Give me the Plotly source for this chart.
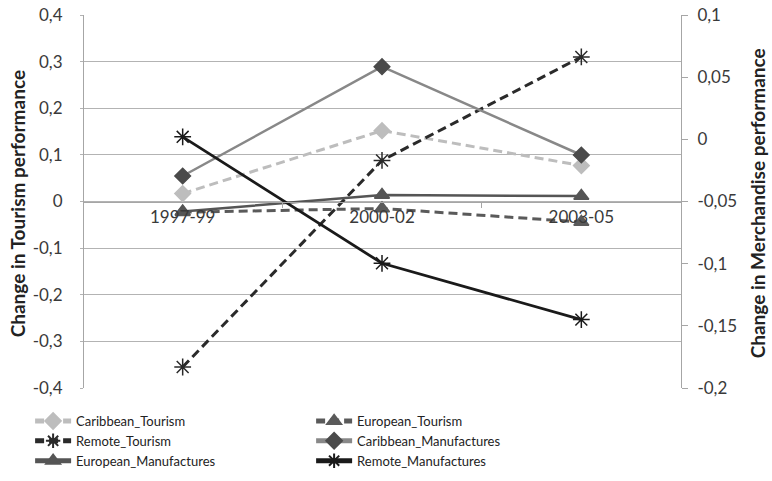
import plotly.graph_objects as go

categories = ["1997-99", "2000-02", "2003-05"]

caribbean_tourism = [0.017, 0.152, 0.077]
european_tourism = [-0.023, -0.015, -0.044]
remote_tourism = [-0.355, 0.088, 0.31]

caribbean_manufactures = [-0.0295, 0.0584, -0.0126]
european_manufactures = [-0.058, -0.0448, -0.0456]
remote_manufactures = [0.002, -0.0997, -0.145]

left_ticks = [0.4, 0.3, 0.2, 0.1, 0, -0.1, -0.2, -0.3, -0.4]
left_labels = ["0,4", "0,3", "0,2", "0,1", "0", "-0,1", "-0,2", "-0,3", "-0,4"]
right_ticks = [0.1, 0.05, 0, -0.05, -0.1, -0.15, -0.2]
right_labels = ["0,1", "0,05", "0", "-0,05", "-0,1", "-0,15", "-0,2"]

left_title = "Change in Tourism performance"
right_title = "Change in Merchandise performance"

FONT = "Lato"
TXT = "#3a3a3a"
DASH = "9px,5px"
fig = go.Figure()

def add(name, y, color, mcolor, dash, symbol, msize, yaxis, legend, width=2.5):
    fig.add_trace(go.Scatter(
        x=categories, y=y, name=name, mode="lines+markers",
        line=dict(color=color, dash=dash, width=width),
        marker=dict(symbol=symbol, size=msize, color=mcolor,
                    line=dict(color=mcolor, width=1.5)),
        yaxis=yaxis, legend=legend))

add("Caribbean_Tourism", caribbean_tourism, "#bdbdbd", "#bdbdbd", DASH, "diamond", 12, "y", "legend", 3)
add("Remote_Tourism", remote_tourism, "#2a2a2a", "#2a2a2a", DASH, "asterisk", 14, "y", "legend", 3)
add("European_Manufactures", european_manufactures, "#555555", "#555555", "solid", "triangle-up", 13, "y2", "legend", 2.5)
add("European_Tourism", european_tourism, "#5a5a5a", "#5a5a5a", DASH, "triangle-up", 13, "y", "legend2", 3)
add("Caribbean_Manufactures", caribbean_manufactures, "#888888", "#4a4a4a", "solid", "diamond", 12, "y2", "legend2", 2.5)
add("Remote_Manufactures", remote_manufactures, "#1a1a1a", "#1a1a1a", "solid", "asterisk", 14, "y2", "legend2", 2.8)

legend_common = dict(yanchor="top", xanchor="left", xref="container", yref="container",
                     orientation="v", font=dict(size=13, color="#222222"),
                     bgcolor="rgba(0,0,0,0)", tracegroupgap=0, itemwidth=36,
                     itemsizing="constant")

fig.update_layout(
    width=772, height=481,
    margin=dict(l=83, r=91, t=15, b=93, autoexpand=False),
    paper_bgcolor="white", plot_bgcolor="white",
    font=dict(family=FONT, size=14, color=TXT),
    showlegend=True,
    xaxis=dict(
        type="category", range=[-0.5, 2.5], anchor="free", position=0.5,
        showline=True, linecolor="#a6a6a6", linewidth=1,
        ticks="outside", tickson="boundaries", ticklen=5, tickcolor="#a6a6a6",
        showgrid=False, tickfont=dict(size=17, color=TXT),
        zeroline=False, automargin=False,
    ),
    yaxis=dict(
        anchor="free", position=0,
        range=[-0.4, 0.4], tickvals=left_ticks, ticktext=left_labels,
        showgrid=True, gridcolor="#b3b3b3", gridwidth=1,
        showline=True, linecolor="#a6a6a6", linewidth=1,
        ticks="outside", ticklen=3, tickcolor="#b3b3b3", ticklabelstandoff=14,
        zeroline=False, tickfont=dict(size=17, color=TXT), automargin=False,
    ),
    yaxis2=dict(
        anchor="free", position=1,
        overlaying="y", side="right", range=[-0.2, 0.1],
        tickvals=right_ticks, ticktext=right_labels,
        showgrid=False, showline=True, linecolor="#a6a6a6", linewidth=1,
        ticks="outside", ticklen=6, tickcolor="#a6a6a6", ticklabelstandoff=6,
        zeroline=False, tickfont=dict(size=17, color=TXT), automargin=False,
    ),
    legend=dict(x=0.039, y=0.156, **legend_common),
    legend2=dict(x=0.403, y=0.156, **legend_common),
    annotations=[
        dict(text="<b>" + left_title + "</b>", xref="paper", yref="paper",
             x=-0.1104, y=0.495, textangle=-90, showarrow=False,
             xanchor="center", yanchor="middle",
             font=dict(family=FONT, size=19, color="#222222")),
        dict(text="<b>" + right_title + "</b>", xref="paper", yref="paper",
             x=1.127, y=0.495, textangle=-90, showarrow=False,
             xanchor="center", yanchor="middle",
             font=dict(family=FONT, size=19, color="#222222")),
    ],
)

fig.write_html("out.html", config={"displayModeBar": False},
               post_script="document.body.style.margin='0';")
